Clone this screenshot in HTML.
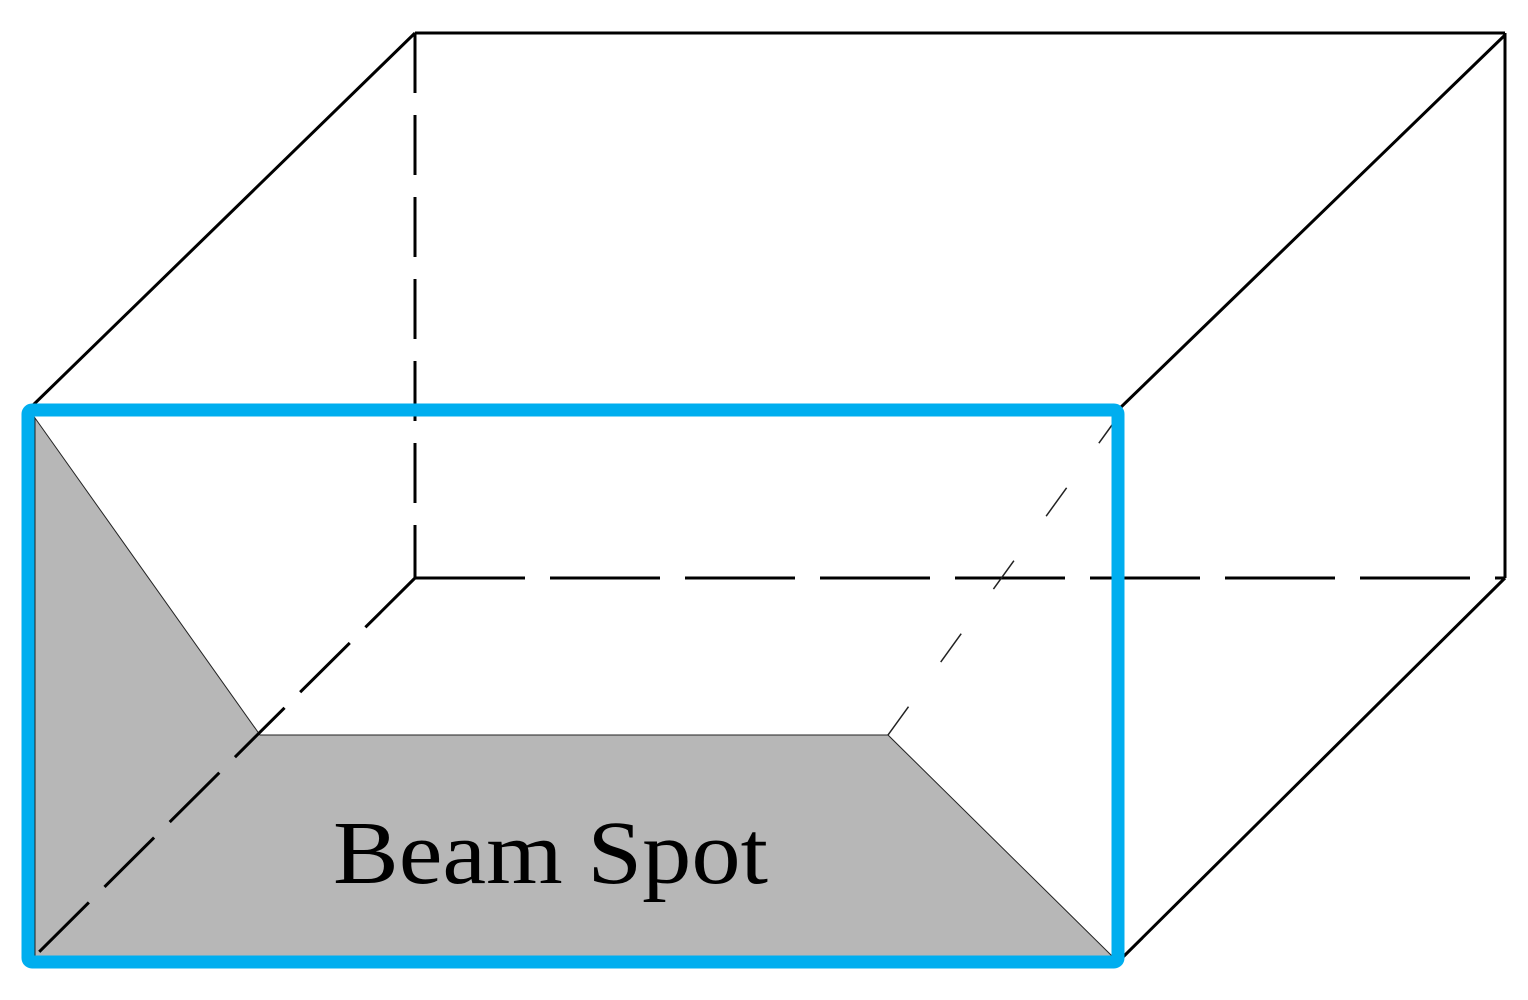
<!DOCTYPE html>
<html><head><style>
html,body{margin:0;padding:0;background:#fff;}
svg{display:block;}
</style></head><body>
<svg width="1528" height="1000" viewBox="0 0 1528 1000" xmlns="http://www.w3.org/2000/svg">
<polygon points="35,418 260,735 888,735 1112,956 35,956" fill="#b7b7b7" stroke="#222" stroke-width="1"/>
<g stroke="#000" fill="none" stroke-width="3">
<line x1="28" y1="410" x2="415" y2="33"/>
<line x1="415" y1="33" x2="1505" y2="33"/>
<line x1="1505" y1="33" x2="1505" y2="578"/>
<line x1="1118" y1="410" x2="1505" y2="35"/>
<line x1="1118" y1="962" x2="1505" y2="578"/>
<line x1="415" y1="33" x2="415" y2="578" stroke-dasharray="60,22"/>
<line x1="415" y1="578" x2="1505" y2="578" stroke-dasharray="110,25"/>
<line x1="415" y1="578" x2="35" y2="956" stroke-dasharray="70,22"/>
</g>
<line x1="888" y1="735" x2="1112" y2="425" stroke="#222" stroke-width="1.5" stroke-dasharray="35,55"/>
<rect x="28" y="410" width="1090" height="552" fill="none" stroke="#00aeef" stroke-width="13" rx="4"/>
<text x="333" y="883" font-family="Liberation Serif, serif" font-size="90" textLength="435" lengthAdjust="spacingAndGlyphs" fill="#000">Beam Spot</text>
</svg>
</body></html>
